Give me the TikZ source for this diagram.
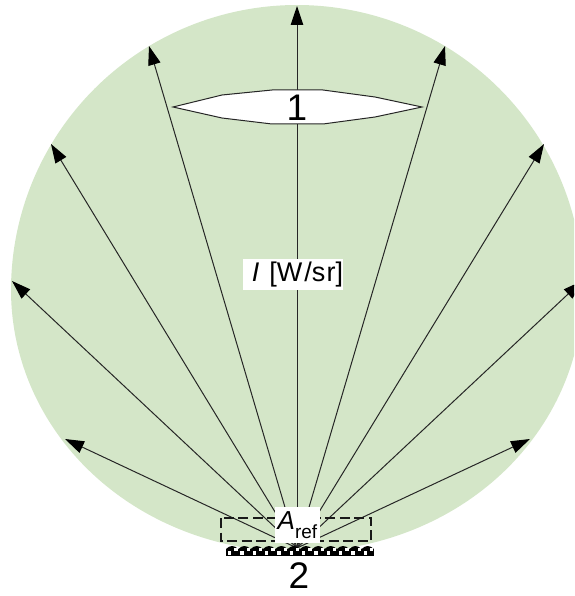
\documentclass[tikz,border=0pt]{standalone}
\usepackage{fontspec}
\setmainfont{Liberation Sans}
\usetikzlibrary{arrows.meta}
\definecolor{lobe}{RGB}{212,230,200}
\tikzset{
  ray/.style={draw=black!85,line width=1pt,-{Triangle[length=19pt,width=12.5pt,color=black,fill=black]}},
  lens/.style={draw=black!85,line width=1pt,fill=white},
  labelbox/.style={fill=white,inner sep=0pt,text=black},
  refbox/.style={draw=black!90,line width=1.1pt,dash pattern=on 10pt off 4.5pt},
  numeral/.style={inner sep=0pt,font=\fontsize{37}{37}\selectfont}
}
\begin{document}
\begin{tikzpicture}[x=1pt,y=-1pt]
\useasboundingbox (0,0) rectangle (574,596);
\begin{scope}
\clip (0,0) rectangle (574,596);
\fill[lobe] plot[domain=0:360,samples=241,smooth]
  ({297+(286-24*pow(max(sin(\x),0),2))*cos(\x)},{290+(285-23*pow(max(sin(\x),0),2))*sin(\x)}) -- cycle;
\coordinate (src) at (297,548);
\coordinate (t1) at (65,439);
\coordinate (t2) at (12,281);
\coordinate (t3) at (51,144);
\coordinate (t4) at (149,46);
\coordinate (t5) at (297,6);
\coordinate (t6) at (445,46);
\coordinate (t7) at (544,144);
\coordinate (t8) at (582,281);
\coordinate (t9) at (530,439);
\foreach \t in {t1,t2,t3,t4,t5,t6,t7,t8,t9} \draw[ray] (src) -- (\t);
\end{scope}
\draw[lens] (173,107) -- (222,95) -- (272,90) -- (323,90) -- (375,97) -- (422,107) -- (375,117) -- (323,124) -- (272,124) -- (222,118) -- cycle;
\node[numeral] (lensnum) at (297,108) {1};
\node[labelbox,minimum width=100pt,minimum height=31pt] (intensity) at (293,274.5)
  {\hspace*{9pt}\fontsize{27}{27}\selectfont\textit{I}\hspace{10pt}[W\hspace{2pt}/s\hspace{1.5pt}r]};
\draw[refbox] (221,518) rectangle (371,541);
\node[labelbox,minimum width=45pt,minimum height=36pt] (aref) at (297.5,525)
  {\fontsize{26}{26}\selectfont\textit{A}\raisebox{-9pt}{\fontsize{19}{19}\selectfont ref}};
\fill[black] (226,548.5) rectangle (374,556);
\foreach \i in {0,...,11} {
  \fill[black] ({226+12.33*\i},549) -- ({229+12.33*\i},546.8) -- ({232+12.33*\i},546) -- ({235.3+12.33*\i},546.8) -- ({238.3+12.33*\i},549) -- cycle;
}
\foreach \i in {0,...,23} {
  \fill[white] ({228+6.17*\i},{(mod(\i,2)==0)*3.3+548}) rectangle +(3.4,3.4);
}
\node[numeral] (srcnum) at (299,576) {2};
\end{tikzpicture}
\end{document}
